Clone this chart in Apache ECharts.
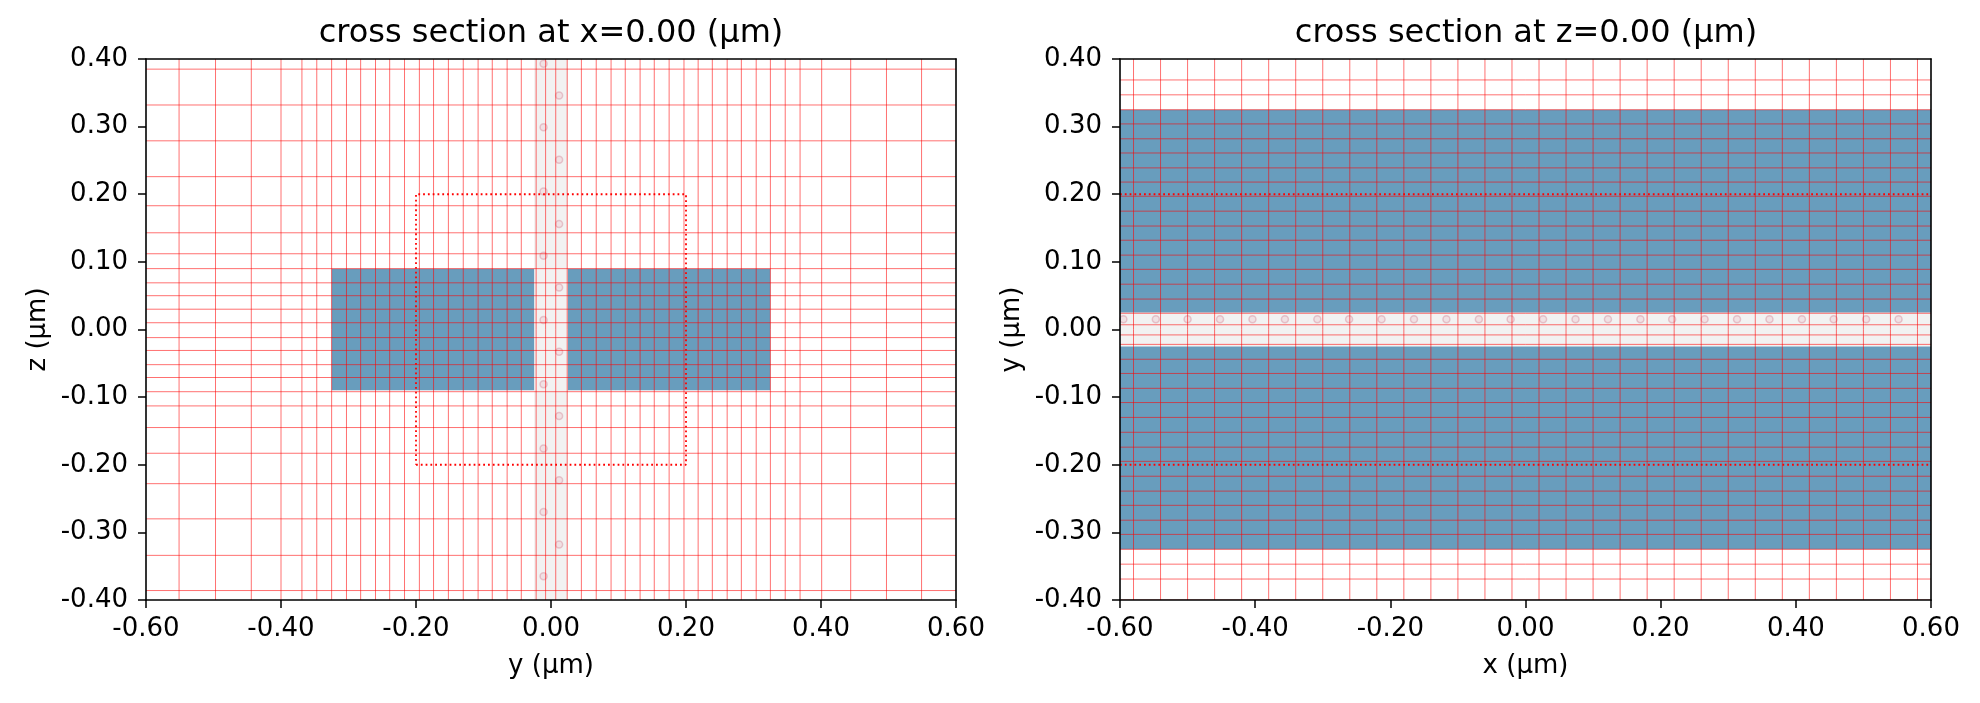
<!DOCTYPE html>
<html><head><meta charset="utf-8">
<script src="https://cdn.jsdelivr.net/npm/echarts@6/dist/echarts.min.js"></script>
<style>html,body{margin:0;padding:0;background:#fff}#c{width:1980px;height:703px}</style>
</head><body><div id="c"></div>
<script>
// ---- axis ranges / ticks ----
const hRange = [-0.6, 0.6];
const vRange = [-0.4, 0.4];
const hTickLabels = ['-0.60','-0.40','-0.20','0.00','0.20','0.40','0.60'];
const vTickLabels = ['-0.40','-0.30','-0.20','-0.10','0.00','0.10','0.20','0.30','0.40'];

// ---- simulation grid lines (µm) ----
const yGrid = [-0.551,-0.497,-0.444,-0.400,-0.369,-0.347,-0.325,-0.303,-0.282,-0.260,-0.239,-0.217,-0.195,-0.174,-0.152,-0.130,-0.108,-0.087,-0.065,-0.044,-0.022,-0.008,
               0.007,0.024,0.045,0.067,0.089,0.110,0.132,0.153,0.175,0.197,0.218,0.239,0.261,0.282,0.304,0.325,0.347,0.369,0.401,0.444,0.497,0.549];
const zGrid = [0.385,0.332,0.279,0.226,0.183,0.143,0.112,0.090,0.069,0.050,0.030,0.010,
               -0.012,-0.031,-0.052,-0.071,-0.092,-0.113,-0.145,-0.183,-0.228,-0.280,-0.334,-0.386];
const xGrid = [-0.58,-0.54,-0.50,-0.46,-0.42,-0.38,-0.34,-0.30,-0.26,-0.22,-0.18,-0.14,-0.10,-0.06,-0.02,
               0.02,0.06,0.10,0.14,0.18,0.22,0.26,0.30,0.34,0.38,0.42,0.46,0.50,0.54,0.58];

// ---- structures [h0, h1, v0, v1] ----
const leftWaveguides = [[-0.325,-0.025,-0.09,0.09],[0.025,0.325,-0.09,0.09]];
const leftGap = [[-0.025,0.025,-0.4,0.4]];
const rightWaveguides = [[-0.6,0.6,0.025,0.325],[-0.6,0.6,-0.325,-0.025]];
const rightGap = [[-0.6,0.6,-0.025,0.025]];

// ---- monitor box ----
const monitorLeft = [-0.2, 0.2, -0.2, 0.2];   // y0,y1,z0,z1
const monitorRightY = [-0.2, 0.2];

// ---- hatch marks in the gap ----
const hatchLeftZ = [0.393,0.346,0.299,0.251,0.204,0.156,0.109,0.062,0.014,-0.033,-0.081,-0.128,-0.176,-0.223,-0.270,-0.318,-0.365];
const hatchLeftY = [-0.011,0.012,-0.011,0.012,-0.011,0.012,-0.011,0.012,-0.011,0.012,-0.011,0.012,-0.011,0.012,-0.011,0.012,-0.011];
const hatchRightX = [-0.595,-0.547,-0.500,-0.452,-0.404,-0.356,-0.308,-0.261,-0.213,-0.165,-0.117,-0.069,-0.022,0.026,0.074,0.122,0.170,0.217,0.265,0.313,0.361,0.409,0.456,0.504,0.552];
const hatchRightY = 0.015;

const FONT = 'DejaVu Sans';
const BLUE = '#689dbd';
const GAPC = '#f2f2f2';
const GRIDC = 'rgba(255,0,0,0.56)';

function fmt(v){ if (Math.abs(v) < 1e-9) v = 0; return v.toFixed(2); }

function mainX(gi, name){
  return {gridIndex:gi, type:'value', min:hRange[0], max:hRange[1], interval:0.2, position:'bottom', z:10,
    name:name, nameLocation:'middle', nameGap:53,
    nameTextStyle:{fontFamily:FONT, fontSize:26, color:'#000'},
    axisLine:{show:true, onZero:false, lineStyle:{color:'#000', width:1.6}},
    axisTick:{show:true, length:8, lineStyle:{color:'#000', width:1.5}},
    axisLabel:{fontFamily:FONT, fontSize:26, color:'#000', margin:16, formatter:fmt},
    splitLine:{show:false}};
}
function mainY(gi, name){
  return {gridIndex:gi, type:'value', min:vRange[0], max:vRange[1], interval:0.1, position:'left', z:10,
    name:name, nameLocation:'middle', nameGap:95,
    nameTextStyle:{fontFamily:FONT, fontSize:26, color:'#000'},
    axisLine:{show:true, onZero:false, lineStyle:{color:'#000', width:1.6}},
    axisTick:{show:true, length:8, lineStyle:{color:'#000', width:1.5}},
    axisLabel:{fontFamily:FONT, fontSize:26, color:'#000', margin:18, formatter:fmt},
    splitLine:{show:false}};
}
function boxX(gi){ return {gridIndex:gi, type:'value', min:hRange[0], max:hRange[1], position:'top', z:10,
  axisLine:{show:true, onZero:false, lineStyle:{color:'#000', width:1.6}}, axisTick:{show:false}, axisLabel:{show:false}, splitLine:{show:false}}; }
function boxY(gi){ return {gridIndex:gi, type:'value', min:vRange[0], max:vRange[1], position:'right', z:10,
  axisLine:{show:true, onZero:false, lineStyle:{color:'#000', width:1.6}}, axisTick:{show:false}, axisLabel:{show:false}, splitLine:{show:false}}; }

function rects(gi, data, color){
  return {type:'custom', xAxisIndex:gi, yAxisIndex:gi, clip:true, z:1, silent:true, animation:false,
    data:data,
    renderItem:function(p, api){
      const a = api.coord([api.value(0), api.value(3)]);
      const b = api.coord([api.value(1), api.value(2)]);
      return {type:'rect', shape:{x:a[0], y:a[1], width:b[0]-a[0], height:b[1]-a[1]}, style:{fill:color}};
    }};
}
function vLines(gi, vals){
  return {type:'custom', xAxisIndex:gi, yAxisIndex:gi, clip:true, z:4, silent:true, animation:false,
    data:vals.map(v=>[v]),
    renderItem:function(p, api){
      const v = api.value(0);
      const a = api.coord([v, vRange[0]]), b = api.coord([v, vRange[1]]);
      return {type:'line', shape:{x1:a[0], y1:a[1], x2:b[0], y2:b[1]}, style:{stroke:GRIDC, lineWidth:1}};
    }};
}
function hLines(gi, vals){
  return {type:'custom', xAxisIndex:gi, yAxisIndex:gi, clip:true, z:4, silent:true, animation:false,
    data:vals.map(v=>[hRange[0], v]),
    renderItem:function(p, api){
      const v = api.value(1);
      const a = api.coord([hRange[0], v]), b = api.coord([hRange[1], v]);
      return {type:'line', shape:{x1:a[0], y1:a[1], x2:b[0], y2:b[1]}, style:{stroke:GRIDC, lineWidth:1}};
    }};
}
function dotted(gi, pts){
  return {type:'line', xAxisIndex:gi, yAxisIndex:gi, z:6, silent:true, animation:false, symbol:'none', clip:true,
    data:pts, lineStyle:{color:'#ff0000', width:1.8, type:[1.8,3], cap:'butt'}};
}
function hatch(gi, pts){
  return {type:'scatter', xAxisIndex:gi, yAxisIndex:gi, z:3, silent:true, animation:false, symbol:'circle', symbolSize:7,
    data:pts, itemStyle:{color:'rgba(235,190,200,0.4)', borderColor:'rgba(205,110,130,0.42)', borderWidth:1.5}};
}

const [m0,m1,m2,m3] = monitorLeft;
const option = {
  animation:false,
  backgroundColor:'#fff',
  graphic:[
    {type:'text', x:551, y:34, style:{text:'cross section at x=0.00 (µm)', font:'32px "DejaVu Sans"', fill:'#000', textAlign:'center', textVerticalAlign:'middle', align:'center', verticalAlign:'middle'}},
    {type:'text', x:1526, y:34, style:{text:'cross section at z=0.00 (µm)', font:'32px "DejaVu Sans"', fill:'#000', textAlign:'center', textVerticalAlign:'middle', align:'center', verticalAlign:'middle'}}
  ],
  grid:[{left:146, top:59, width:810, height:541}, {left:1120, top:59, width:811, height:541}],
  xAxis:[mainX(0,'y (µm)'), mainX(1,'x (µm)'), boxX(0), boxX(1)],
  yAxis:[mainY(0,'z (µm)'), mainY(1,'y (µm)'), boxY(0), boxY(1)],
  series:[
    rects(0, leftGap, GAPC),
    rects(0, leftWaveguides, BLUE),
    hatch(0, hatchLeftZ.map((z,i)=>[hatchLeftY[i], z])),
    vLines(0, yGrid),
    hLines(0, zGrid),
    dotted(0, [[m0,m2],[m1,m2],[m1,m3],[m0,m3],[m0,m2]]),

    rects(1, rightGap, GAPC),
    rects(1, rightWaveguides, BLUE),
    hatch(1, hatchRightX.map(x=>[x, hatchRightY])),
    vLines(1, xGrid),
    hLines(1, yGrid),
    dotted(1, [[hRange[0], monitorRightY[0]],[hRange[1], monitorRightY[0]]]),
    dotted(1, [[hRange[0], monitorRightY[1]],[hRange[1], monitorRightY[1]]])
  ]
};
const chart = echarts.init(document.getElementById('c'));
chart.setOption(option);
</script></body></html>
